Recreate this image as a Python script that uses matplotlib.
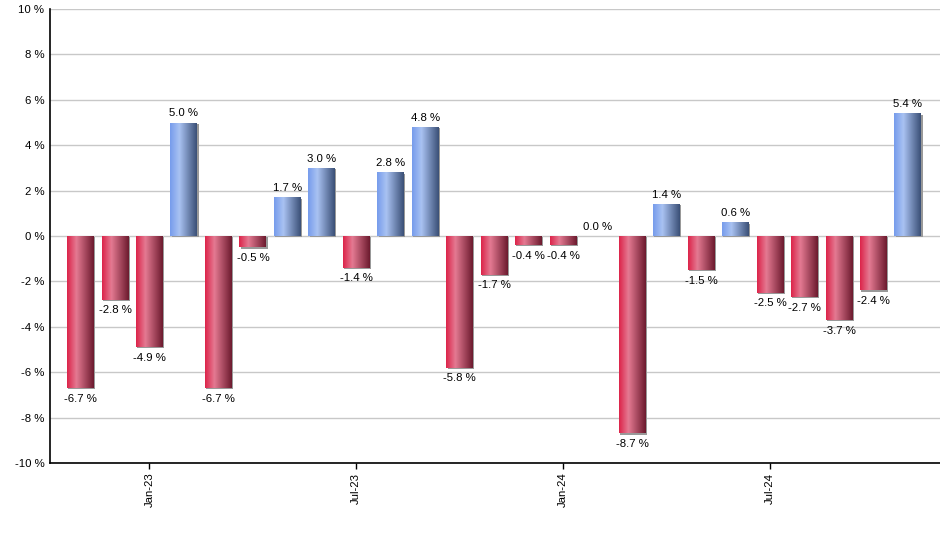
import numpy as np
import matplotlib
matplotlib.use("Agg")
import matplotlib.pyplot as plt
import matplotlib.transforms as mtransforms
from matplotlib.colors import LinearSegmentedColormap

plt.rcParams['font.family'] = ['Liberation Sans', 'DejaVu Sans']

# monthly returns, Nov-22 .. Nov-24
values = [-6.7, -2.8, -4.9, 5.0, -6.7, -0.5, 1.7, 3.0, -1.4, 2.8, 4.8, -5.8,
          -1.7, -0.4, -0.4, 0.0, -8.7, 1.4, -1.5, 0.6, -2.5, -2.7, -3.7, -2.4, 5.4]
tick_pos = [2, 8, 14, 20]
tick_labels = ["Jan-23", "Jul-23", "Jan-24", "Jul-24"]
y_ticks = list(range(-10, 11, 2))

red_map = LinearSegmentedColormap.from_list(
    "red", [(0, "#dc2349"), (0.35, "#e47a92"), (1, "#6c1a2e")])
blue_map = LinearSegmentedColormap.from_list(
    "blue", [(0, "#769cec"), (0.35, "#a9c2f2"), (1, "#3a4f76")])

fig = plt.figure(figsize=(9.4, 5.5), dpi=100)
ax = fig.add_axes([50 / 940, 87 / 550, 890 / 940, 454 / 550])

x = np.arange(len(values))
width = 0.78

# drop shadow
shadow = mtransforms.offset_copy(ax.transData, fig=fig, x=1.2, y=-1.2, units="dots")
ax.bar(x, values, width=width, color="#999999", transform=shadow, zorder=2)

bars = ax.bar(x, values, width=width, color="none", zorder=3)
grad = np.linspace(0, 1, 256).reshape(1, -1)
for b, v in zip(bars, values):
    if v == 0:
        continue
    x0, y0 = b.get_x(), b.get_y()
    w, h = b.get_width(), b.get_height()
    cmap = blue_map if v > 0 else red_map
    im = ax.imshow(grad, cmap=cmap, aspect="auto", zorder=3,
                   extent=[x0, x0 + w, min(y0, y0 + h), max(y0, y0 + h)])
    im.set_clip_path(b)

for xi, v in zip(x, values):
    if v >= 0:
        ax.annotate(f"{v:.1f} %", (xi, v), xytext=(0, 3), textcoords="offset points",
                    ha="center", va="bottom", fontsize=8.2)
    else:
        ax.annotate(f"{v:.1f} %", (xi, v), xytext=(0, -4), textcoords="offset points",
                    ha="center", va="top", fontsize=8.2)

ax.set_xlim(-0.885, 24.93)
ax.set_ylim(-10, 10)
ax.set_yticks(y_ticks)
ax.set_yticklabels([f"{t} %" for t in y_ticks], fontsize=8.2)
ax.set_xticks(tick_pos)
ax.set_xticklabels(tick_labels, rotation=90, fontsize=8.2)
ax.yaxis.grid(True, color="#c8c8c8", linewidth=1, zorder=0)
ax.set_axisbelow(True)
ax.tick_params(axis="y", length=0, pad=4)
ax.tick_params(axis="x", length=4, width=1, pad=3)
for s in ["top", "right"]:
    ax.spines[s].set_visible(False)
for s in ["left", "bottom"]:
    ax.spines[s].set_color("black")
    ax.spines[s].set_linewidth(1.2)

fig.savefig("out.png", dpi=100)
